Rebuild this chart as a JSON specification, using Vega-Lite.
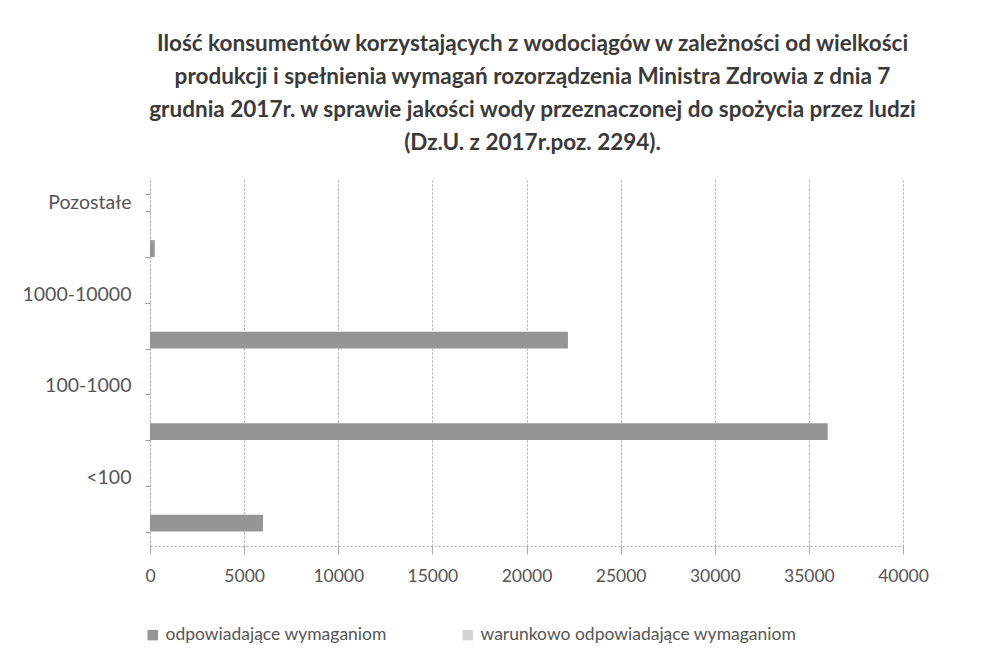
{
  "$schema": "https://vega.github.io/schema/vega-lite/v6.json",
  "width": 753,
  "height": 366,
  "autosize": {"type": "none"},
  "padding": {"left": 150, "top": 180, "right": 83, "bottom": 123},
  "background": "white",
  "config": {
    "view": {"stroke": null},
    "font": "Lato",
    "axis": {"labelFont": "Lato", "labelColor": "#555555"},
    "legend": {"labelFont": "Lato"}
  },
  "title": {
    "text": [
      "Ilość konsumentów korzystających z wodociągów w zależności od wielkości",
      "produkcji i spełnienia wymagań rozorządzenia  Ministra Zdrowia z dnia  7",
      "grudnia 2017r. w sprawie jakości wody przeznaczonej do spożycia przez ludzi",
      "(Dz.U. z 2017r.poz. 2294)."
    ],
    "anchor": "middle",
    "fontSize": 22.5,
    "fontWeight": "bold",
    "color": "#3a3a3a",
    "lineHeight": 33.3,
    "offset": 15,
    "dx": 6
  },
  "data": {
    "values": [
      {"kategoria": "Pozostałe", "seria": "odpowiadające wymaganiom", "wartosc": 0},
      {"kategoria": "Pozostałe", "seria": "warunkowo odpowiadające wymaganiom", "wartosc": 0},
      {"kategoria": " ", "seria": "odpowiadające wymaganiom", "wartosc": 250},
      {"kategoria": " ", "seria": "warunkowo odpowiadające wymaganiom", "wartosc": 0},
      {"kategoria": "1000-10000", "seria": "odpowiadające wymaganiom", "wartosc": 0},
      {"kategoria": "1000-10000", "seria": "warunkowo odpowiadające wymaganiom", "wartosc": 0},
      {"kategoria": "  ", "seria": "odpowiadające wymaganiom", "wartosc": 22200},
      {"kategoria": "  ", "seria": "warunkowo odpowiadające wymaganiom", "wartosc": 0},
      {"kategoria": "100-1000", "seria": "odpowiadające wymaganiom", "wartosc": 0},
      {"kategoria": "100-1000", "seria": "warunkowo odpowiadające wymaganiom", "wartosc": 0},
      {"kategoria": "   ", "seria": "odpowiadające wymaganiom", "wartosc": 36000},
      {"kategoria": "   ", "seria": "warunkowo odpowiadające wymaganiom", "wartosc": 0},
      {"kategoria": "<100", "seria": "odpowiadające wymaganiom", "wartosc": 0},
      {"kategoria": "<100", "seria": "warunkowo odpowiadające wymaganiom", "wartosc": 0},
      {"kategoria": "    ", "seria": "odpowiadające wymaganiom", "wartosc": 6000},
      {"kategoria": "    ", "seria": "warunkowo odpowiadające wymaganiom", "wartosc": 0}
    ]
  },
  "mark": {"type": "bar"},
  "encoding": {
    "y": {
      "field": "kategoria",
      "type": "nominal",
      "title": null,
      "scale": {
        "domain": ["Pozostałe", " ", "1000-10000", "  ", "100-1000", "   ", "<100", "    "],
        "paddingInner": 0.63,
        "paddingOuter": 0.315
      },
      "axis": {
        "tickBand": "extent",
        "labelFontSize": 19.5,
        "labelPadding": 14,
        "tickSize": 5,
        "tickColor": "#999999",
        "domainColor": "#aaaaaa",
        "domainDash": [2, 2],
        "grid": false
      }
    },
    "x": {
      "field": "wartosc",
      "type": "quantitative",
      "stack": "zero",
      "title": null,
      "scale": {"domain": [0, 40000], "nice": false},
      "axis": {
        "values": [0, 5000, 10000, 15000, 20000, 25000, 30000, 35000, 40000],
        "format": "d",
        "labelFontSize": 17.5,
        "labelPadding": 13,
        "tickSize": 8,
        "tickColor": "#aaaaaa",
        "domainColor": "#aaaaaa",
        "domainDash": [2, 2],
        "gridColor": "#aaaaaa",
        "gridDash": [2, 2],
        "labelFlush": false
      }
    },
    "color": {
      "field": "seria",
      "type": "nominal",
      "scale": {
        "domain": ["odpowiadające wymaganiom", "warunkowo odpowiadające wymaganiom"],
        "range": ["#959595", "#d4d4d4"]
      },
      "legend": {
        "title": null,
        "orient": "none",
        "direction": "horizontal",
        "legendX": -6,
        "legendY": 446,
        "symbolType": "square",
        "symbolSize": 110,
        "symbolStrokeWidth": 0,
        "labelFontSize": 17.5,
        "labelLimit": 0,
        "labelColor": "#555555",
        "columnPadding": 72,
        "labelOffset": 4
      }
    }
  }
}
